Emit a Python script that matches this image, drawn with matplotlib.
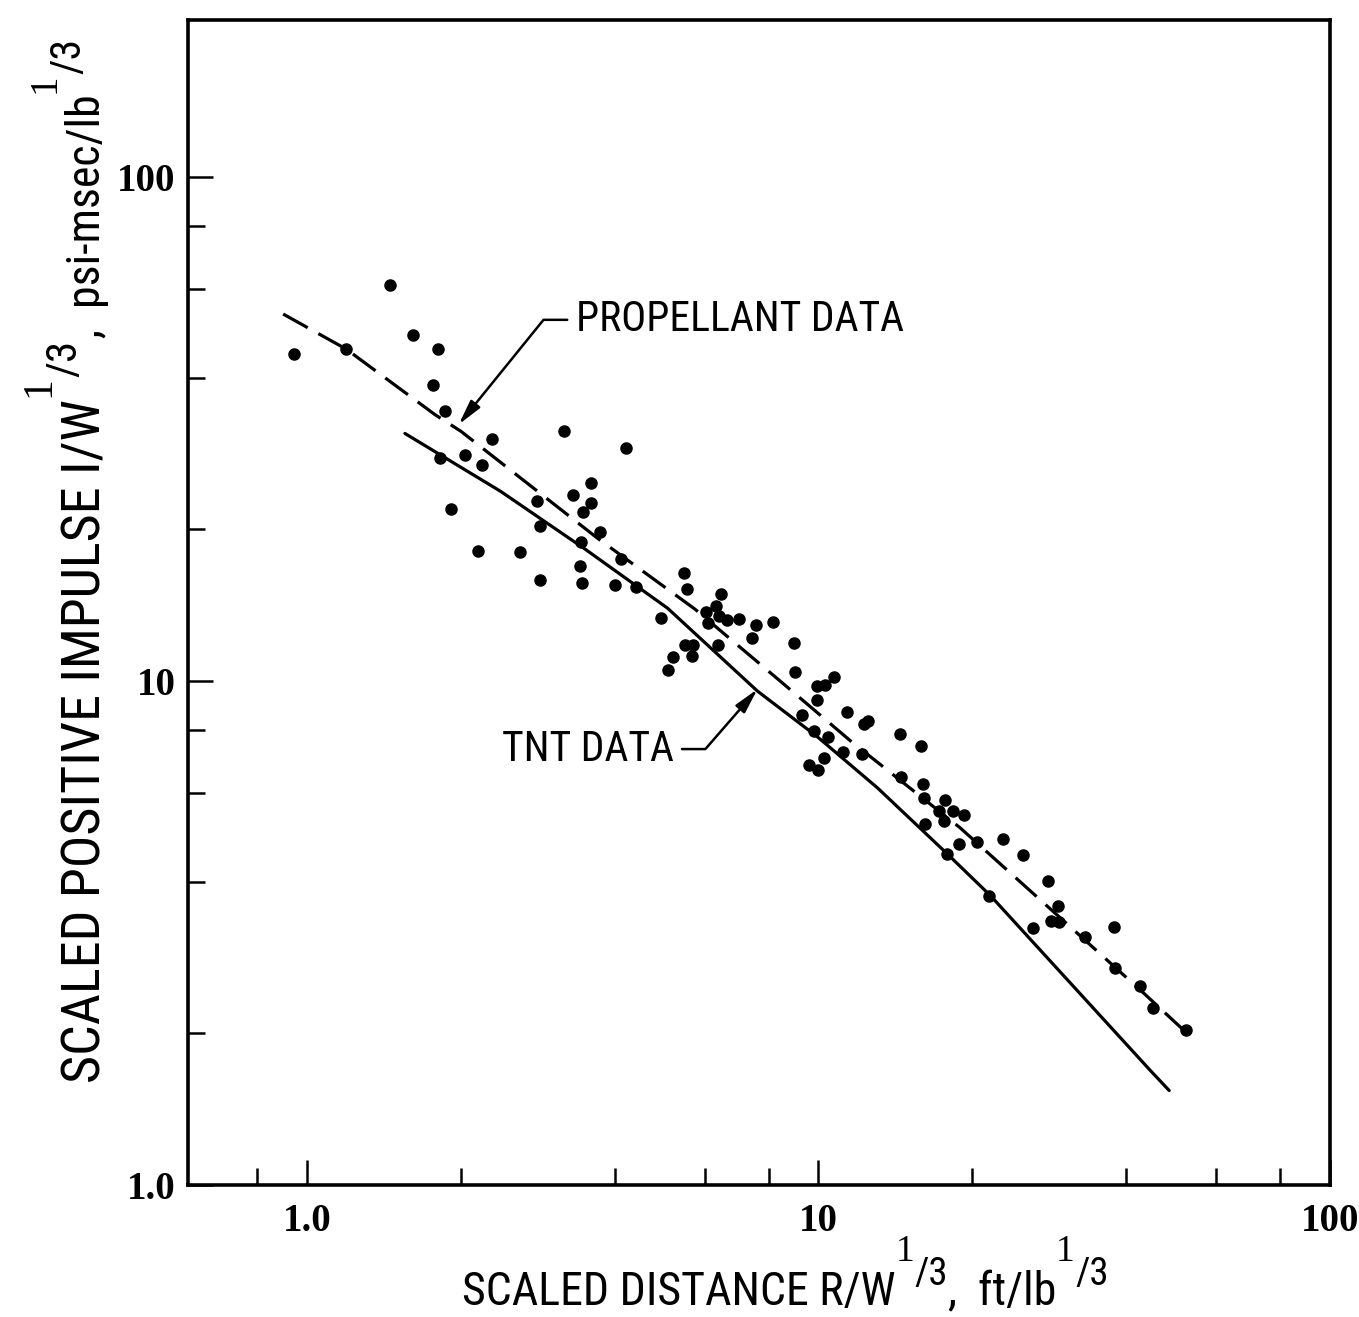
import matplotlib
matplotlib.use('Agg')
import matplotlib.pyplot as plt
from matplotlib.ticker import FixedLocator, NullFormatter

# Scaled distance R/W^1/3 (ft/lb^1/3) and scaled positive impulse I/W^1/3
# (psi-msec/lb^1/3) for the individual propellant test records
dist_pts = [0.943, 1.193, 1.450, 1.611, 1.803, 1.760, 1.863, 1.816, 1.909, 2.032,
            2.200, 2.301, 2.164, 2.603, 2.818, 2.848, 2.848, 3.186, 3.318, 3.460,
            3.598, 3.598, 3.434, 3.425, 3.455, 3.740, 4.111, 4.211, 3.996, 4.398,
            4.920, 5.449, 5.531, 6.446, 6.302, 6.025, 6.071, 6.399, 6.622, 6.989,
            7.556, 8.132, 7.408, 6.370, 5.481, 5.691, 5.665, 5.193, 5.087, 8.949,
            9.005, 9.955, 10.29, 10.70, 9.92, 11.36, 12.28, 12.51, 9.29, 9.82,
            10.46, 11.19, 10.26, 9.60, 9.99, 12.19, 14.41, 15.89, 14.53, 16.04,
            16.09, 17.68, 17.21, 18.33, 19.26, 16.16, 17.60, 18.83, 20.44, 17.86,
            22.95, 25.15, 28.10, 29.38, 28.43, 29.51, 26.30, 33.13, 37.80, 42.61,
            45.11, 52.41, 38.08, 21.55]
imp_pts = [44.5, 45.6, 61.2, 48.7, 45.5, 38.6, 34.4, 27.7, 22.0, 28.1,
           26.8, 30.2, 18.15, 18.0, 22.8, 20.3, 15.9, 31.4, 23.4, 21.7,
           24.7, 22.6, 18.9, 16.9, 15.65, 19.8, 17.5, 29.0, 15.5, 15.4,
           13.35, 16.4, 15.2, 14.9, 14.1, 13.7, 13.05, 13.45, 13.2, 13.3,
           12.9, 13.1, 12.2, 11.8, 11.8, 11.8, 11.2, 11.15, 10.5, 11.9,
           10.4, 9.77, 9.82, 10.2, 9.16, 8.68, 8.21, 8.33, 8.55, 7.96,
           7.75, 7.24, 7.05, 6.82, 6.66, 7.16, 7.84, 7.43, 6.45, 6.24,
           5.87, 5.80, 5.53, 5.53, 5.43, 5.20, 5.28, 4.76, 4.80, 4.54,
           4.87, 4.52, 4.02, 3.58, 3.34, 3.32, 3.23, 3.10, 3.25, 2.48,
           2.25, 2.03, 2.69, 3.75]

# Faired curve through the propellant data
prop_dist = [0.898, 1.192, 1.778, 2.0, 3.70, 5.73, 8.32, 11.55, 18.9, 29.7, 43.3, 54.3]
prop_imp = [53.5, 45.6, 33.8, 31.3, 19.2, 13.9, 10.1, 7.61, 5.12, 3.39, 2.40, 1.94]

# Reference curve for TNT
tnt_dist = [1.554, 2.39, 3.49, 5.07, 7.60, 9.955, 13.04, 17.86, 21.7, 44.5, 48.5]
tnt_imp = [31.0, 23.8, 18.3, 13.95, 9.55, 7.75, 6.14, 4.54, 3.75, 1.69, 1.54]

# Axis ticks
x_major = [1.0, 10.0, 100.0]
x_major_labels = ['1.0', '10', '100']
x_minor = [0.8, 2, 4, 6, 8, 20, 40, 60, 80]
y_major = [1.0, 10.0, 100.0]
y_major_labels = ['1.0', '10', '100']
y_minor = [2, 4, 6, 8, 20, 40, 60, 80]

# Callout positions (data coords): text anchor and arrow tip
prop_text_at = (3.35, 52.1)
prop_tip = (1.98, 32.3)
tnt_text_at = (5.21, 7.33)
tnt_tip = (7.60, 9.64)

narrow = ['Roboto Condensed', 'Liberation Sans Narrow', 'Roboto', 'DejaVu Sans']
serif = ['Liberation Serif', 'DejaVu Serif']
plt.rcParams['font.family'] = narrow

XLABEL_FS = 33
YLABEL_FS = 39
NOTE_FS = 30

# baselines of the two axis titles (figure fraction)
XLABEL_BASE = 0.009
YLABEL_BASE = 0.0736

fig = plt.figure(figsize=(13.59, 13.17), dpi=100)
ax = fig.add_axes([0.1383, 0.1002, 0.8403, 0.8846])
ax.set_xscale('log')
ax.set_yscale('log')
ax.set_xlim(0.585, 100)
ax.set_ylim(1.0, 205)

ax.plot(prop_dist, prop_imp, color='black', lw=2.3, dashes=(8.8, 3.8))
ax.plot(tnt_dist, tnt_imp, color='black', lw=2.3, solid_capstyle='round',
        solid_joinstyle='round')
ax.plot(dist_pts, imp_pts, 'o', color='black', ms=8, ls='none')

# frame and ticks
for side in ax.spines.values():
    side.set_linewidth(2.6)
ax.tick_params(which='both', direction='in', top=False, right=False,
               width=1.8, colors='black')
ax.tick_params(which='major', length=18)
ax.tick_params(which='minor', length=12)
ax.tick_params(axis='x', which='major', pad=13)
ax.tick_params(axis='y', which='major', pad=9)

ax.set_xticks(x_major, labels=x_major_labels, fontsize=28,
              fontfamily=serif, fontweight='bold')
ax.set_yticks(y_major, labels=y_major_labels, fontsize=28,
              fontfamily=serif, fontweight='bold')
ax.xaxis.set_minor_locator(FixedLocator(x_minor))
ax.yaxis.set_minor_locator(FixedLocator(y_minor))
ax.xaxis.set_minor_formatter(NullFormatter())
ax.yaxis.set_minor_formatter(NullFormatter())

# curve callouts
arrow_kw = dict(arrowstyle='-|>,head_length=0.75,head_width=0.18',
                color='black', lw=1.8, mutation_scale=20, shrinkB=0)
ax.annotate('PROPELLANT DATA', xy=prop_tip, xytext=prop_text_at,
            ha='left', va='center', fontsize=NOTE_FS,
            arrowprops=dict(connectionstyle='angle,angleA=0,angleB=51,rad=0',
                            relpos=(0, 0.5), shrinkA=4, **arrow_kw))
ax.annotate('TNT DATA', xy=tnt_tip, xytext=tnt_text_at,
            ha='right', va='center', fontsize=NOTE_FS,
            arrowprops=dict(connectionstyle='angle,angleA=0,angleB=49,rad=0',
                            relpos=(1, 0.5), shrinkA=4, **arrow_kw))

# axis titles with the 1/3 power written as raised "1" and "/3"
off = dict(textcoords='offset points', annotation_clip=False)

t0 = fig.text(0.340, XLABEL_BASE, 'SCALED DISTANCE R/W', fontsize=XLABEL_FS,
              ha='left', va='baseline')
t1 = ax.annotate('1', xy=(1, 1), xycoords=t0, xytext=(0, 1), ha='left',
                 va='bottom', fontsize=27, family=serif, **off)
t2 = ax.annotate('/3', xy=(1, 0), xycoords=t1, xytext=(0, -12), ha='left',
                 va='baseline', fontsize=28, **off)
t3 = ax.annotate(',  ft/lb', xy=(1, XLABEL_BASE),
                 xycoords=(t2, 'figure fraction'), xytext=(0, 0),
                 ha='left', va='baseline', fontsize=XLABEL_FS, **off)
t4 = ax.annotate('1', xy=(1, 1), xycoords=t3, xytext=(0, 1), ha='left',
                 va='bottom', fontsize=27, family=serif, **off)
t5 = ax.annotate('/3', xy=(1, 0), xycoords=t4, xytext=(0, -12), ha='left',
                 va='baseline', fontsize=28, **off)

u0 = fig.text(YLABEL_BASE, 0.178, 'SCALED POSITIVE IMPULSE I/W',
              fontsize=YLABEL_FS, rotation=90, rotation_mode='anchor',
              ha='left', va='baseline')
u1 = ax.annotate('1', xy=(0, 1), xycoords=u0, xytext=(-1, 1), rotation=90,
                 ha='right', va='bottom', fontsize=30, family=serif, **off)
u2 = ax.annotate('/3', xy=(1, 1), xycoords=u1, xytext=(13, 0), rotation=90,
                 rotation_mode='anchor', ha='left', va='baseline',
                 fontsize=31, **off)
u3 = ax.annotate(',  psi-msec/lb', xy=(YLABEL_BASE, 1),
                 xycoords=('figure fraction', u2), xytext=(0, 1),
                 rotation=90, rotation_mode='anchor', ha='left',
                 va='baseline', fontsize=33, **off)
u4 = ax.annotate('1', xy=(0, 1), xycoords=u3, xytext=(-1, 1), rotation=90,
                 ha='right', va='bottom', fontsize=28, family=serif, **off)
u5 = ax.annotate('/3', xy=(1, 1), xycoords=u4, xytext=(12, 0), rotation=90,
                 rotation_mode='anchor', ha='left', va='baseline',
                 fontsize=30, **off)

fig.savefig('out.png', dpi=100, facecolor='white')
